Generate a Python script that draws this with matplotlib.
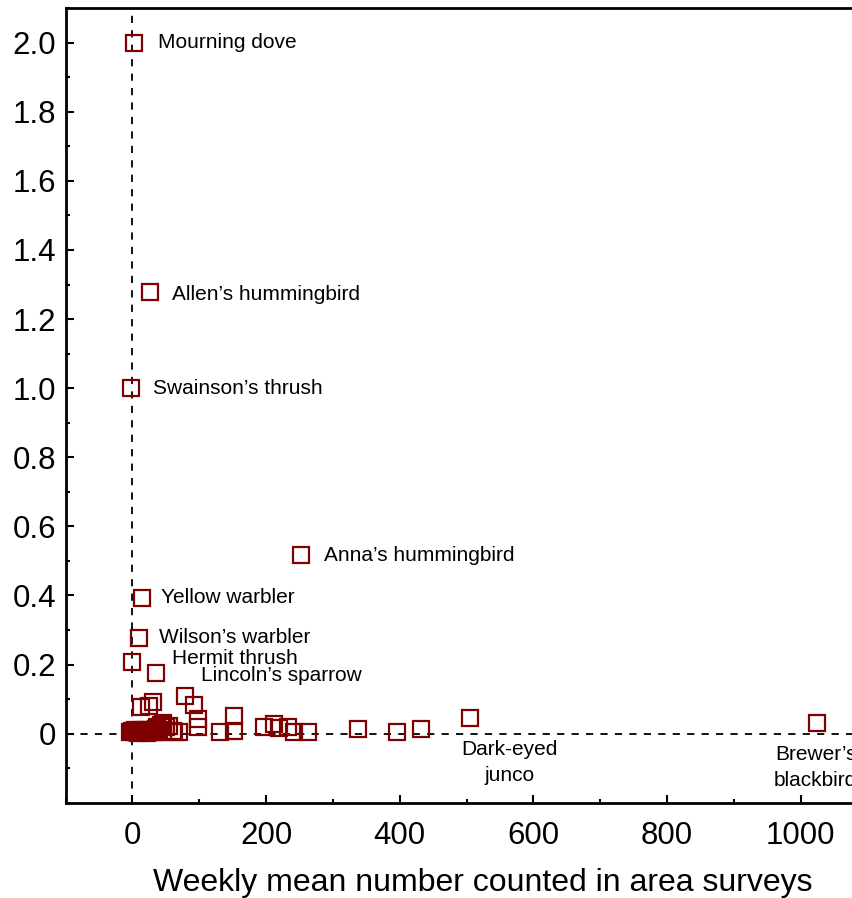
import numpy as np
import matplotlib.pyplot as plt
from matplotlib.ticker import MultipleLocator, FixedLocator, FuncFormatter

plt.rcParams['font.family'] = ['Liberation Sans', 'DejaVu Sans']

# especies con etiqueta
species = ["Mourning dove", "Allen\u2019s hummingbird", "Swainson\u2019s thrush",
           "Anna\u2019s hummingbird", "Yellow warbler", "Wilson\u2019s warbler",
           "Hermit thrush", "Lincoln\u2019s sparrow", "Dark-eyed\njunco",
           "Brewer\u2019s\nblackbird"]
sp_x = [2, 26, -2, 252, 14, 10, 0, 35, 505, 1024]
sp_y = [2.0, 1.277, 1.0, 0.517, 0.393, 0.277, 0.208, 0.176, 0.046, 0.032]

# resto de especies (sin etiqueta)
other_x = [-3, 0, 2, 4, 6, 8, 10, 12, 14, 16, 18, 20, 22, 25, 28, 30, 33, 36,
           40, 42, 45, 50, 55, 60, 62, 12, 24, 30, 78, 92, 98, 98, 131, 152,
           152, 197, 212, 220, 233, 242, 262, 337, 396, 432, 70, 46, 35]
other_y = [0.005, 0.008, 0.004, 0.01, 0.006, 0.003, 0.012, 0.005, 0.008, 0.004,
           0.01, 0.006, 0.003, 0.008, 0.012, 0.005, 0.004, 0.02, 0.01, 0.025,
           0.006, 0.02, 0.022, 0.008, 0.004, 0.078, 0.08, 0.092, 0.11, 0.084,
           0.043, 0.02, 0.006, 0.052, 0.008, 0.02, 0.029, 0.017, 0.02, 0.006,
           0.006, 0.014, 0.006, 0.014, 0.006, 0.03, 0.015]

y_ticks = [0, 0.2, 0.4, 0.6, 0.8, 1.0, 1.2, 1.4, 1.6, 1.8, 2.0]

# desplazamiento de cada etiqueta (pixeles) y alineacion
lbl_dx = [24, 22, 22, 23, 19, 20, 40, 45, 40, -1]
lbl_dy = [0, -2, 0, 0, 0, 0, 3, -3, -45, -45]
lbl_ha = ["left"] * 8 + ["center", "center"]

red = "#7f0000"

fig = plt.figure(figsize=(8.53, 8.98), dpi=100)
# el eje sigue mas alla del borde derecho, como en el original
ax = fig.add_axes([0.077, 0.106, 0.979, 0.885])

ax.axhline(0, color='black', lw=1.3, ls=(0, (4, 4)), zorder=1)
ax.axvline(0, color='black', lw=1.3, ls=(0, (4, 4)), zorder=1)

ax.plot(other_x, other_y, 's', ms=11.5, mfc='none', mec=red, mew=1.6, zorder=2)
ax.plot(sp_x, sp_y, 's', ms=11.5, mfc='none', mec=red, mew=1.6, zorder=2)

for name, x, y, dx, dy, ha in zip(species, sp_x, sp_y, lbl_dx, lbl_dy, lbl_ha):
    ax.annotate(name, (x, y), xytext=(dx, dy), textcoords='offset pixels',
                ha=ha, va='center', fontsize=15, linespacing=1.45)

ax.set_xlim(-100, 1150)
ax.set_ylim(-0.2, 2.1)

ax.xaxis.set_major_locator(MultipleLocator(200))
ax.xaxis.set_minor_locator(MultipleLocator(100))
ax.yaxis.set_major_locator(FixedLocator(y_ticks))
ax.yaxis.set_minor_locator(MultipleLocator(0.1))
ax.xaxis.set_major_formatter(FuncFormatter(lambda v, p: "%d" % round(v)))
ax.yaxis.set_major_formatter(FuncFormatter(lambda v, p: "0" if abs(v) < 1e-9 else "%.1f" % v))

ax.tick_params(which='both', direction='in', labelsize=22.5, width=1.5)
ax.tick_params(which='major', length=6)
ax.tick_params(which='minor', length=3)
ax.tick_params(axis='y', pad=7)
ax.tick_params(axis='x', pad=13)

for s in ax.spines.values():
    s.set_linewidth(2)

ax.set_xlabel("Weekly mean number counted in area surveys", fontsize=23, labelpad=12)

fig.savefig("out.png", dpi=100)
